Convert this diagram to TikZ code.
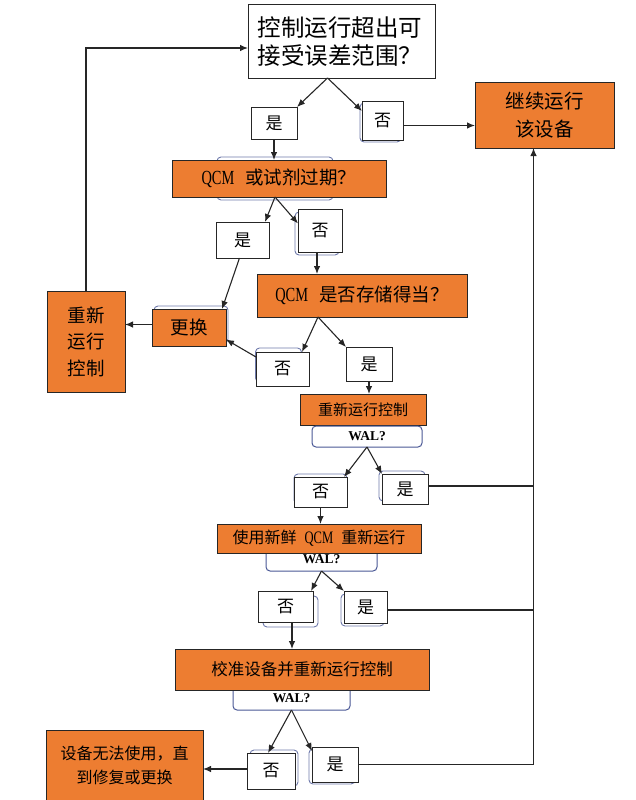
\documentclass[tikz,border=0pt]{standalone}
\usepackage{fontspec}
\setmainfont{Noto Sans CJK SC}
\newfontfamily\qcmfont[FakeStretch=0.72]{Liberation Serif}
\newfontfamily\walfont{Liberation Serif}
\usetikzlibrary{arrows.meta,backgrounds,calc}
\definecolor{boxorange}{RGB}{237,125,49}
\definecolor{walblue}{RGB}{74,88,150}

\begin{document}
\begin{tikzpicture}[x=1pt, y=-1pt,
  box/.style={draw=black!85, fill=white, line width=1pt, inner sep=0pt,
    outer sep=0pt, align=center},
  hot/.style={box, fill=boxorange},
  yn/.style={box, font=\fontsize{17}{20}\selectfont},
  wal/.style={draw=walblue, fill=white, line width=1pt, rounded corners=4pt,
    inner sep=0pt, outer sep=0pt,
    font=\walfont\bfseries\fontsize{13.5}{15}\selectfont},
  ghost/.style={draw=walblue!80, line width=.9pt, rounded corners=4pt,
    inner sep=0pt},
  edge/.style={-{Latex[length=8pt,width=6.5pt]}, draw=black!85,
    line width=1.1pt},
  rail/.style={draw=black!85, line width=1.1pt}
]
\useasboundingbox (0,0) rectangle (635,800);

\node[box, minimum width=187pt, minimum height=73pt, text width=168pt,
  align=left, font=\fontsize{23.5}{28}\selectfont] (ask) at (341.5,41.5)
  {控制运行超出可\\接受误差范围？};
\node[hot, minimum width=139pt, minimum height=66pt,
  font=\fontsize{19.5}{28}\selectfont] (keep) at (544.5,115)
  {继续运行\\该设备};
\node[yn, minimum width=46pt, minimum height=32pt] (yes1) at (274,123) {是};
\node[yn, minimum width=41pt, minimum height=39pt] (no1) at (382.5,120.5) {否};

\node[hot, minimum width=214pt, minimum height=37pt,
  font=\fontsize{18.5}{22}\selectfont] (expired) at (279,178.5)
  {{\qcmfont\fontsize{20}{22}\selectfont QCM}\hspace{0.6em}或试剂过期？};
\node[yn, minimum width=53pt, minimum height=36pt] (yes2) at (242.5,240) {是};
\node[yn, minimum width=44pt, minimum height=43pt] (no2) at (320,230.5) {否};

\node[hot, minimum width=210pt, minimum height=43pt,
  font=\fontsize{18.5}{22}\selectfont] (stored) at (362,295.5)
  {{\qcmfont\fontsize{20}{22}\selectfont QCM}\hspace{0.6em}是否存储得当？};
\node[hot, minimum width=74pt, minimum height=37pt,
  font=\fontsize{18.5}{22}\selectfont] (swap) at (189,327.5) {更换};
\node[hot, minimum width=78pt, minimum height=101pt,
  font=\fontsize{18.5}{26.5}\selectfont] (rerun) at (86,341.5)
  {重新\\运行\\控制};
\node[yn, minimum width=53pt, minimum height=34pt] (no3) at (282.5,369) {否};
\node[yn, minimum width=46pt, minimum height=34pt] (yes3) at (369,364) {是};

\node[hot, minimum width=126pt, minimum height=31pt,
  font=\fontsize{15}{18}\selectfont] (again) at (363,409.5) {重新运行控制};
\node[wal, minimum width=110pt, minimum height=21pt] (wal1) at (367,436.5) {WAL?};
\node[yn, minimum width=53pt, minimum height=30pt] (no4) at (320.5,492) {否};
\node[yn, minimum width=46pt, minimum height=30pt] (yes4) at (405,489) {是};

\node[wal, minimum width=111pt, minimum height=24pt] (wal2) at (321.5,559) {WAL?};
\node[hot, minimum width=204pt, minimum height=29pt,
  font=\fontsize{16}{19}\selectfont] (fresh) at (319,538.5)
  {使用新鲜\hspace{0.5em}{\qcmfont\fontsize{17.5}{19}\selectfont QCM}\hspace{0.5em}重新运行};
\node[yn, minimum width=55pt, minimum height=31pt] (no5) at (285.5,606.5) {否};
\node[yn, minimum width=43pt, minimum height=32pt] (yes5) at (365.5,607) {是};

\node[wal, minimum width=117pt, minimum height=24pt] (wal3) at (291.5,698) {WAL?};
\node[hot, minimum width=254pt, minimum height=41pt,
  font=\fontsize{16.5}{20}\selectfont] (calib) at (302,669.5)
  {校准设备并重新运行控制};
\node[yn, minimum width=48pt, minimum height=36pt] (no6) at (271,771) {否};
\node[yn, minimum width=46pt, minimum height=35pt] (yes6) at (335,764.5) {是};
\node[hot, minimum width=157pt, minimum height=70pt,
  font=\fontsize{16}{24}\selectfont] (broken) at (124.5,765)
  {设备无法使用，直\\到修复或更换};

\coordinate (railtop) at ([xshift=-11pt]keep.south);

\begin{scope}[on background layer]
\node[ghost, minimum width=116pt, minimum height=43pt] (g1) at (275,178.5) {};
\node[ghost, minimum width=41pt, minimum height=39pt] (g2) at ([xshift=-2pt,yshift=-2pt]no1.center) {};
\node[ghost, minimum width=44pt, minimum height=43pt] (g3) at ([xshift=-3pt,yshift=-3pt]no2.center) {};
\node[ghost, minimum width=74pt, minimum height=37pt] (g4) at ([xshift=2pt,yshift=3pt]swap.center) {};
\node[ghost, minimum width=46pt, minimum height=34pt] (g5) at ([xshift=-4pt,yshift=4pt]no3.center) {};
\node[ghost, minimum width=53pt, minimum height=30pt] (g6) at ([yshift=3pt]no4.center) {};
\node[ghost, minimum width=46pt, minimum height=30pt] (g7) at ([xshift=-3pt,yshift=3pt]yes4.center) {};
\node[ghost, minimum width=55pt, minimum height=31pt] (g8) at ([xshift=5pt,yshift=-5pt]no5.center) {};
\node[ghost, minimum width=43pt, minimum height=32pt] (g9) at ([xshift=-3pt,yshift=-3pt]yes5.center) {};
\node[ghost, minimum width=48pt, minimum height=36pt] (g10) at ([xshift=3pt,yshift=3pt]no6.center) {};
\node[ghost, minimum width=46pt, minimum height=35pt] (g11) at ([xshift=-3pt,yshift=-2pt]yes6.center) {};
\end{scope}

\draw[edge] ([xshift=-14pt]ask.south) -- (yes1.north east);
\draw[edge] ([xshift=-14pt]ask.south) -- ([yshift=-10pt]no1.north west);
\draw[edge] ([yshift=-5pt]no1.east) -- ([yshift=-5pt]no1.east -| keep.west);
\draw[edge] (yes1.south) -- (yes1.south |- expired.north);
\draw[edge] ([xshift=-4pt]expired.south) -- ([xshift=-4pt]yes2.north east);
\draw[edge] ([xshift=-4pt]expired.south) -- ([yshift=7pt]no2.west);
\draw[edge] ([xshift=-3pt]no2.south) -- ([xshift=-3pt]no2.south |- stored.north);
\draw[edge] ([xshift=-3pt]yes2.south) -- ([xshift=-4pt]swap.north east);
\draw[edge] ([xshift=-44pt]stored.south) -- ([xshift=-7pt]no3.north east);
\draw[edge] ([xshift=-44pt]stored.south) -- (yes3.north west);
\draw[edge] ([yshift=12pt]no3.west) -- ([yshift=-12pt]swap.east);
\draw[edge] ([yshift=3pt]swap.west) -- ([yshift=3pt]swap.west -| rerun.east);
\draw[edge] (rerun.north) |- ([yshift=-6.5pt]ask.west);
\draw[edge] (yes3.south) -- (yes3.south |- again.north);
\draw[edge] (wal1.south) -- ([xshift=-3pt]no4.north east);
\draw[edge] (wal1.south) -- (yes4.north west);
\draw[rail] ([yshift=3pt]yes4.east) -- ([yshift=3pt]yes4.east -| railtop);
\draw[edge] (no4.south) -- (no4.south |- fresh.north);
\draw[edge] (wal2.south) -- ([xshift=-2pt]no5.north east);
\draw[edge] (wal2.south) -- (yes5.north west);
\draw[rail] ([yshift=-3pt]yes5.east) -- ([yshift=-3pt]yes5.east -| railtop);
\draw[edge] ([xshift=6.5pt]no5.south) -- ([xshift=6.5pt]no5.south |- calib.north);
\draw[edge] (wal3.south) -- ([xshift=-3pt]no6.north);
\draw[edge] (wal3.south) -- ([yshift=-4pt]yes6.north west);
\draw[edge] (yes6.east) -| (railtop);
\draw[edge] ([yshift=2pt]no6.west) -- ([yshift=2pt]no6.west -| broken.east);
\end{tikzpicture}
\end{document}
